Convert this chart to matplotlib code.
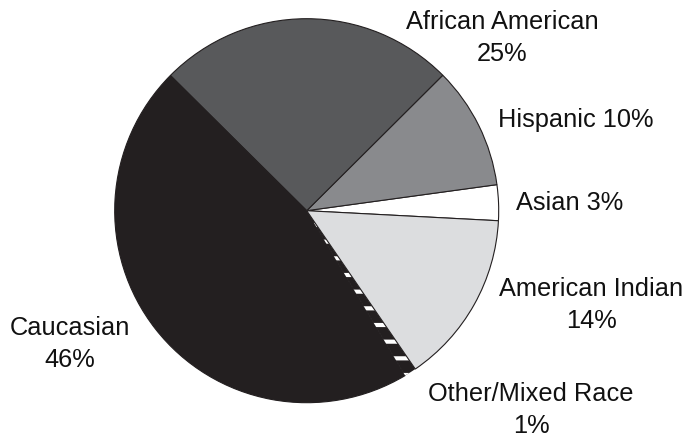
#!/usr/bin/env python3
"""Race / ethnicity pie chart."""
import matplotlib
matplotlib.use("Agg")
import matplotlib.pyplot as plt

# ── data ───────────────────────────────────────────────────────────────────
labels = ["Asian", "Hispanic", "African American", "Caucasian",
          "Other/Mixed Race", "American Indian"]
shares = [3.0, 10.3, 25.1, 46.0, 1.0, 14.6]
pct_text = ["3%", "10%", "25%", "46%", "1%", "14%"]

COLORS = ["#ffffff", "#898a8d", "#58595b", "#231f20", "#231f20", "#dcdddf"]

plt.rcParams["font.family"] = ["Liberation Sans", "DejaVu Sans"]
plt.rcParams["hatch.linewidth"] = 3.0

fig = plt.figure(figsize=(6.88, 4.41), dpi=100)
ax = fig.add_axes([0, 0, 1, 1])

R = 192.0  # pie radius in pixels
cx, cy = 306.7, 210.7

wedges, _ = ax.pie(shares, colors=COLORS, startangle=-3, counterclock=True,
                   radius=1.0, center=(0, 0), frame=True,
                   wedgeprops=dict(edgecolor="#231f20", linewidth=0.8))
ax.axis("off")
ax.set_aspect("equal")
ax.set_xlim(-cx / R, (688 - cx) / R)
ax.set_ylim(-(441 - cy) / R, cy / R)

# thin hatched slice
other = wedges[4]
other.set_hatch("-")
other.set_edgecolor("white")
other.set_linewidth(0)

# ── labels ─────────────────────────────────────────────────────────────────
def px(x, y):
    return (x - cx) / R, (cy - y) / R

label_pos = {
    "Asian": (570, 203, False),
    "Hispanic": (576, 120, False),
    "African American": (502, 38, True),
    "Caucasian": (70, 344, True),
    "Other/Mixed Race": (531, 410, True),
    "American Indian": (591, 305, True),
}
for name, pct in zip(labels, pct_text):
    x, y, two = label_pos[name]
    txt = f"{name}\n{pct}" if two else f"{name} {pct}"
    ax.text(*px(x, y), txt, ha="center", va="center", multialignment="center",
            fontsize=18.3, color="#111111", linespacing=1.38)

fig.savefig("out.png", dpi=100, facecolor="white")
